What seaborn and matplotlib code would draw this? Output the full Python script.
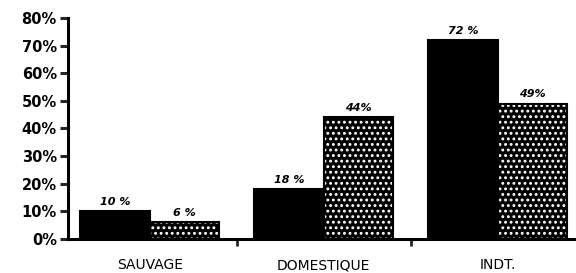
import matplotlib
matplotlib.use("Agg")
import matplotlib.pyplot as plt
import seaborn as sns
import pandas as pd
from matplotlib.colors import to_rgba
from matplotlib.ticker import FixedLocator

categories = ["SAUVAGE", "DOMESTIQUE", "INDT."]
series = ["A", "B"]
values_a = [10, 18, 72]
values_b = [6, 44, 49]
labels_a = ["10 %", "18 %", "72 %"]
labels_b = ["6 %", "44%", "49%"]
yticks = [0, 10, 20, 30, 40, 50, 60, 70, 80]
ytick_labels = ["0%", "10%", "20%", "30%", "40%", "50%", "60%", "70%", "80%"]

df = pd.DataFrame({
    "cat": categories * 2,
    "series": [series[0]] * 3 + [series[1]] * 3,
    "val": values_a + values_b,
})

sns.set_style("white")
plt.rcParams["font.family"] = ["DejaVu Sans"]
plt.rcParams["hatch.linewidth"] = 1.3
plt.rcParams["text.color"] = "black"

fig = plt.figure(figsize=(5.76, 2.73), dpi=100)
ax = fig.add_axes([0.118, 0.125, 0.882, 0.809])

sns.barplot(data=df, x="cat", y="val", hue="series", palette=["black", "black"],
            width=0.8, gap=0, errorbar=None, legend=False, ax=ax,
            edgecolor="black", linewidth=1.5, saturation=1)

for p in ax.containers[1]:
    p.set_hatch("...")
    p._hatch_color = to_rgba("white")

ax.bar_label(ax.containers[0], labels=labels_a, padding=3, fontsize=8,
             fontweight="bold", fontstyle="italic", color="black")
ax.bar_label(ax.containers[1], labels=labels_b, padding=3, fontsize=8,
             fontweight="bold", fontstyle="italic", color="black")

ax.set_ylim(0, 80)
ax.set_xlim(-0.47, 2.45)
ax.set_yticks(yticks)
ax.set_yticklabels(ytick_labels, fontsize=10.5, fontweight="bold", color="black")
ax.tick_params(axis="y", direction="out", length=6, width=2.2, left=True, pad=2)
ax.set_xticks([0, 1, 2])
ax.set_xticklabels(categories, fontsize=10, color="black")
ax.tick_params(axis="x", which="major", length=0, pad=14)
ax.xaxis.set_minor_locator(FixedLocator([0.5, 1.5]))
ax.tick_params(axis="x", which="minor", direction="out", length=5, width=2, bottom=True)
ax.set_xlabel("")
ax.set_ylabel("")
for s in ["top", "right"]:
    ax.spines[s].set_visible(False)
for s in ["left", "bottom"]:
    ax.spines[s].set_linewidth(2.2)
    ax.spines[s].set_color("black")

fig.savefig("out.png", dpi=100)
